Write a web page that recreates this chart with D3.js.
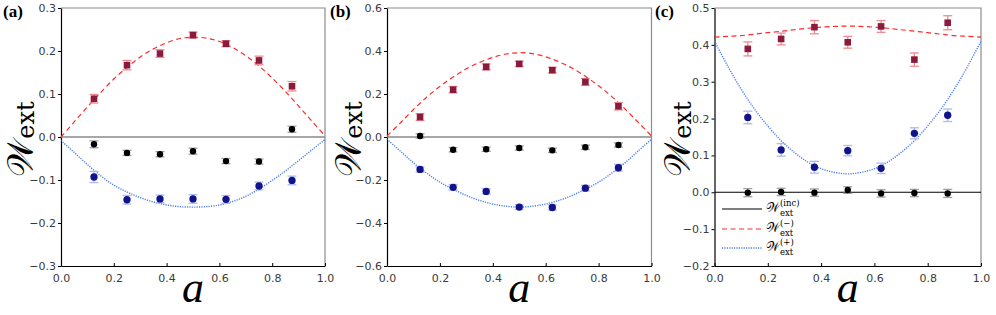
<!DOCTYPE html>
<html><head><meta charset="utf-8">
<script src="https://cdn.jsdelivr.net/npm/d3@7/dist/d3.min.js"></script>
<style>body{margin:0;background:#fff} svg{display:block}</style>
</head><body>
<svg id="chart" width="996" height="315"></svg>
<script>
// ---------- data ----------
const aValues = [0.125, 0.25, 0.375, 0.5, 0.625, 0.75, 0.875];
const curveA = [0,0.05,0.1,0.15,0.2,0.25,0.3,0.35,0.4,0.45,0.5,0.55,0.6,0.65,0.7,0.75,0.8,0.85,0.9,0.95,1];
const xTicks = [0, 0.2, 0.4, 0.6, 0.8, 1.0];

// panel (a)
const aMinus     = [0.089, 0.167, 0.194, 0.237, 0.217, 0.178, 0.118];
const aMinusErr  = [0.010, 0.011, 0.009, 0.007, 0.007, 0.010, 0.011];
const aInc       = [-0.017, -0.037, -0.040, -0.033, -0.056, -0.057, 0.018];
const aIncErr    = [0.008, 0.006, 0.006, 0.007, 0.006, 0.006, 0.007];
const aPlus      = [-0.093, -0.146, -0.144, -0.144, -0.145, -0.114, -0.101];
const aPlusErr   = [0.013, 0.010, 0.009, 0.010, 0.009, 0.009, 0.010];
const aMinusCurve = [0.0,0.035,0.07,0.103,0.135,0.162,0.186,0.205,0.219,0.229,0.232,0.230,0.222,0.208,0.189,0.165,0.137,0.106,0.072,0.037,0.003];
const aPlusCurve  = [-0.008,-0.036,-0.064,-0.09,-0.112,-0.128,-0.141,-0.151,-0.158,-0.162,-0.163,-0.162,-0.158,-0.150,-0.138,-0.121,-0.101,-0.079,-0.055,-0.030,-0.006];
const aTicks = [-0.3,-0.2,-0.1,0.0,0.1,0.2,0.3];

// panel (b)
const bMinus     = [0.093, 0.220, 0.326, 0.340, 0.311, 0.256, 0.143];
const bMinusErr  = [0.016, 0.015, 0.014, 0.012, 0.013, 0.016, 0.017];
const bInc       = [0.005, -0.059, -0.057, -0.051, -0.062, -0.048, -0.037];
const bIncErr    = [0.010, 0.010, 0.010, 0.010, 0.010, 0.010, 0.010];
const bPlus      = [-0.151, -0.234, -0.253, -0.326, -0.328, -0.238, -0.143];
const bPlusErr   = [0.012, 0.013, 0.012, 0.011, 0.012, 0.013, 0.016];
const bMinusCurve = [0.005,0.065,0.128,0.185,0.235,0.279,0.317,0.347,0.370,0.386,0.392,0.388,0.373,0.350,0.320,0.282,0.238,0.188,0.130,0.068,0.005];
const bPlusCurve  = [-0.010,-0.065,-0.120,-0.168,-0.210,-0.243,-0.272,-0.295,-0.312,-0.322,-0.326,-0.322,-0.312,-0.295,-0.272,-0.243,-0.210,-0.168,-0.120,-0.065,-0.010];
const bTicks = [-0.6,-0.4,-0.2,0.0,0.2,0.4,0.6];

// panel (c)
const cMinus     = [0.389, 0.416, 0.448, 0.407, 0.450, 0.360, 0.460];
const cMinusErr  = [0.019, 0.016, 0.018, 0.016, 0.016, 0.018, 0.019];
const cInc       = [-0.001, 0.001, -0.001, 0.006, -0.003, -0.002, -0.003];
const cIncErr    = [0.011, 0.010, 0.010, 0.009, 0.010, 0.010, 0.011];
const cPlus      = [0.203, 0.115, 0.068, 0.113, 0.065, 0.160, 0.209];
const cPlusErr   = [0.017, 0.017, 0.016, 0.014, 0.014, 0.015, 0.017];
const cMinusCurve = [0.421,0.423,0.425,0.429,0.433,0.437,0.441,0.445,0.448,0.450,0.451,0.450,0.448,0.445,0.441,0.437,0.433,0.429,0.425,0.423,0.421];
const cPlusCurve  = [0.410,0.342,0.280,0.226,0.180,0.140,0.108,0.082,0.064,0.054,0.050,0.054,0.064,0.082,0.108,0.140,0.180,0.226,0.280,0.342,0.410];
const cTicks = [-0.2,-0.1,0.0,0.1,0.2,0.3,0.4,0.5];

const panelLabels = ["(a)", "(b)", "(c)"];
const legendLabels = ["(inc)", "(\u2212)", "(+)"];

// ---------- layout ----------
const panels = [
  {label: panelLabels[0], left: 61,  right: 325, labelX: 3,   yLabX: 33,  domain: [-0.3, 0.3], ticks: aTicks,
   minus: aMinus, minusErr: aMinusErr, inc: aInc, incErr: aIncErr, plus: aPlus, plusErr: aPlusErr,
   minusCurve: aMinusCurve, plusCurve: aPlusCurve, zeroColor: "#8a8a8a", legend: false},
  {label: panelLabels[1], left: 387, right: 651.5, labelX: 330, yLabX: 361, domain: [-0.6, 0.6], ticks: bTicks,
   minus: bMinus, minusErr: bMinusErr, inc: bInc, incErr: bIncErr, plus: bPlus, plusErr: bPlusErr,
   minusCurve: bMinusCurve, plusCurve: bPlusCurve, zeroColor: "#8a8a8a", legend: false},
  {label: panelLabels[2], left: 714.5, right: 981, labelX: 655, yLabX: 690, domain: [-0.2, 0.5], ticks: cTicks,
   minus: cMinus, minusErr: cMinusErr, inc: cInc, incErr: cIncErr, plus: cPlus, plusErr: cPlusErr,
   minusCurve: cMinusCurve, plusCurve: cPlusCurve, zeroColor: "#000", legend: true}
];
const plotTop = 8, plotBottom = 266;

const C = {
  red: "#ff2a2a", redMark: "#8b1a3c", redErr: "#f08a90",
  blue: "#4a7df0", blueMark: "#12128a", blueErr: "#a8bdf2",
  blackMark: "#000", blackErr: "#a0a0a0"
};

const svg = d3.select("#chart");
const tickFont = "'DejaVu Sans', sans-serif";

panels.forEach(p => {
  const x = d3.scaleLinear().domain([0, 1]).range([p.left, p.right]);
  const y = d3.scaleLinear().domain(p.domain).range([plotBottom, plotTop]);
  const g = svg.append("g");

  g.append("path").attr("d", `M${p.left},${plotTop}H${p.right}V${plotBottom}`)
    .attr("fill", "none").attr("stroke", "#8c8c8c").attr("stroke-width", 1.2);

  const ya = g.append("g").attr("transform", `translate(${p.left},0)`)
    .call(d3.axisLeft(y).tickValues(p.ticks).tickSize(3).tickSizeOuter(0).tickFormat(d3.format(".1f")));
  const xa = g.append("g").attr("transform", `translate(0,${plotBottom})`)
    .call(d3.axisBottom(x).tickValues(xTicks).tickSize(-3).tickSizeOuter(0).tickFormat(d3.format(".1f")));
  [ya, xa].forEach(ax => {
    ax.select(".domain").attr("stroke", "#000").attr("stroke-width", 1.2);
    ax.selectAll(".tick line").attr("stroke", "#000");
    ax.selectAll(".tick text").attr("font-family", tickFont).attr("font-size", 11).attr("fill", "#3a3a3a");
  });
  ya.selectAll(".tick text").attr("x", -5);
  xa.selectAll(".tick text").attr("y", 8);

  g.append("line").attr("x1", x(0)).attr("x2", x(1)).attr("y1", y(0)).attr("y2", y(0))
    .attr("stroke", p.zeroColor).attr("stroke-width", p.zeroColor === "#000" ? 1.1 : 1.5);

  const line = d3.line().x((d, i) => x(curveA[i])).y(d => y(d)).curve(d3.curveCatmullRom);
  g.append("path").attr("d", line(p.minusCurve)).attr("fill", "none")
    .attr("stroke", C.red).attr("stroke-width", 1.2).attr("stroke-dasharray", "5,3.5");
  g.append("path").attr("d", line(p.plusCurve)).attr("fill", "none")
    .attr("stroke", C.blue).attr("stroke-width", 1.4).attr("stroke-dasharray", "1.2,1.2");

  function series(vals, errs, errColor, drawMarker) {
    const sg = g.append("g");
    vals.forEach((v, i) => {
      const cx = x(aValues[i]);
      const e = errs[i];
      sg.append("line").attr("x1", cx).attr("x2", cx).attr("y1", y(v - e)).attr("y2", y(v + e))
        .attr("stroke", errColor).attr("stroke-width", 1.3);
      [v - e, v + e].forEach(w => sg.append("line").attr("x1", cx - 4.5).attr("x2", cx + 4.5)
        .attr("y1", y(w)).attr("y2", y(w)).attr("stroke", errColor).attr("stroke-width", 1.3));
      drawMarker(sg, cx, y(v));
    });
  }
  series(p.minus, p.minusErr, C.redErr, (s, cx, cy) =>
    s.append("rect").attr("x", cx - 3.3).attr("y", cy - 3.3).attr("width", 6.6).attr("height", 6.6).attr("fill", C.redMark));
  series(p.inc, p.incErr, C.blackErr, (s, cx, cy) =>
    s.append("circle").attr("cx", cx).attr("cy", cy).attr("r", 3.2).attr("fill", C.blackMark));
  series(p.plus, p.plusErr, C.blueErr, (s, cx, cy) =>
    s.append("path").attr("transform", `translate(${cx},${cy})`)
      .attr("d", d3.symbol(d3.symbolCircle, 42)()).attr("fill", C.blueMark));

  svg.append("text").attr("x", p.labelX).attr("y", 17).text(p.label)
    .attr("font-family", "'Liberation Serif', 'DejaVu Serif', serif").attr("font-weight", "bold").attr("font-size", 17);

  const yl = svg.append("text").attr("transform", `translate(${p.yLabX},${(plotTop + plotBottom) / 2 + 2}) rotate(-90)`)
    .attr("text-anchor", "middle").attr("font-family", "'DejaVu Serif', serif");
  yl.append("tspan").text("\uD835\uDCB2").attr("font-size", 36);
  yl.append("tspan").text("ext").attr("font-size", 24).attr("dy", 1);

  svg.append("text").attr("x", (p.left + p.right) / 2).attr("y", 302).attr("text-anchor", "middle")
    .attr("font-family", "'Liberation Serif', serif").attr("font-style", "italic").attr("font-size", 44).text("a");

  if (p.legend) {
    const ly = [209, 229, 248];
    const styles = [
      {stroke: "#000", dash: null, w: 1.1},
      {stroke: C.red, dash: "5,3.5", w: 1.2},
      {stroke: C.blue, dash: "1.2,1.2", w: 1.4}
    ];
    legendLabels.forEach((lab, i) => {
      svg.append("line").attr("x1", 722).attr("x2", 762).attr("y1", ly[i]).attr("y2", ly[i])
        .attr("stroke", styles[i].stroke).attr("stroke-width", styles[i].w)
        .attr("stroke-dasharray", styles[i].dash);
      const t = svg.append("text").attr("x", 766).attr("y", ly[i] + 3).attr("font-family", "'DejaVu Serif', serif");
      t.append("tspan").text("\uD835\uDCB2").attr("font-size", 13);
      const x0 = 766 + 14;
      t.append("tspan").text("ext").attr("font-size", 8.5).attr("x", x0).attr("dy", 3.5);
      t.append("tspan").text(lab).attr("font-size", 8.5).attr("x", x0).attr("dy", -9.5);
    });
  }
});
</script>
</body></html>
